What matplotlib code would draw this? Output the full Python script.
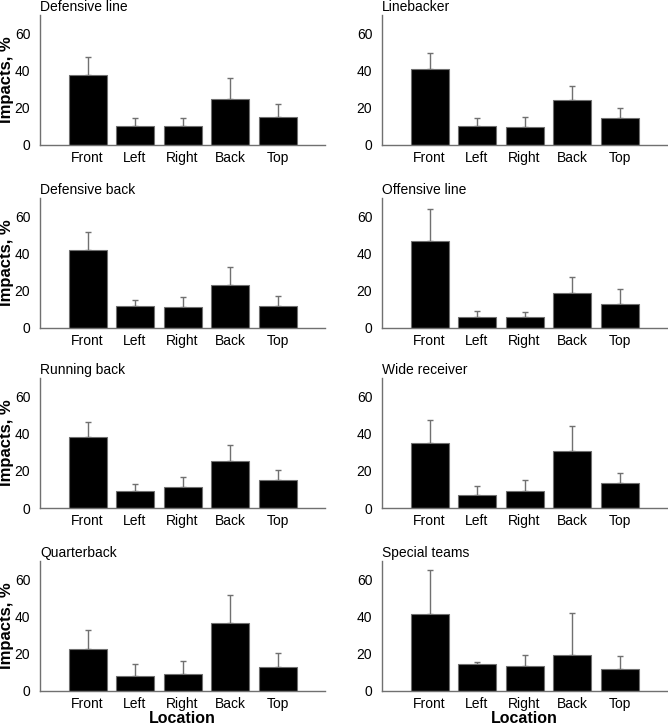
import matplotlib
matplotlib.use("Agg")
import matplotlib.pyplot as plt

plt.rcParams['font.family'] = ['Liberation Sans', 'DejaVu Sans']

# Данные: средние значения и верхняя граница ошибки
locations = ["Front", "Left", "Right", "Back", "Top"]
positions = ["Defensive line", "Linebacker", "Defensive back", "Offensive line",
             "Running back", "Wide receiver", "Quarterback", "Special teams"]

means_dl = [37.6, 10.4, 10.0, 24.7, 15.1]
tops_dl = [47.5, 14.7, 14.7, 36.0, 22.0]
means_lb = [40.9, 10.2, 9.7, 24.4, 14.3]
tops_lb = [49.5, 14.7, 15.1, 31.7, 19.9]
means_db = [41.8, 11.7, 11.5, 23.3, 11.7]
tops_db = [51.5, 15.3, 16.9, 32.9, 17.1]
means_ol = [47.0, 5.7, 5.9, 18.9, 12.7]
tops_ol = [64.3, 9.3, 8.8, 27.6, 20.8]
means_rb = [38.1, 9.3, 11.1, 25.3, 15.1]
tops_rb = [46.3, 12.7, 16.5, 34.1, 20.5]
means_wr = [35.2, 7.2, 9.3, 30.5, 13.3]
tops_wr = [47.2, 11.7, 14.9, 44.0, 18.7]
means_qb = [22.6, 7.9, 9.1, 36.4, 12.7]
tops_qb = [32.6, 14.5, 16.1, 51.8, 20.4]
means_st = [41.2, 14.3, 13.6, 19.4, 11.8]
tops_st = [65.1, 15.4, 19.4, 41.9, 18.8]

all_means = [means_dl, means_lb, means_db, means_ol,
             means_rb, means_wr, means_qb, means_st]
all_tops = [tops_dl, tops_lb, tops_db, tops_ol,
            tops_rb, tops_wr, tops_qb, tops_st]

W, H = 668, 725
fig = plt.figure(figsize=(W / 100, H / 100), dpi=100)

col_left = [40, 382]
row_top = [15, 198, 378, 561]
ax_w, ax_h = 285, 130

x = list(range(1, len(locations) + 1))
gray = "#707070"

for i, name in enumerate(positions):
    r, c = divmod(i, 2)
    ax = fig.add_axes([col_left[c] / W, 1 - (row_top[r] + ax_h) / H, ax_w / W, ax_h / H])
    m = all_means[i]
    err = [t - v for t, v in zip(all_tops[i], m)]
    ax.bar(x, m, width=0.8, color="black", edgecolor=gray, linewidth=0.8, zorder=2)
    ax.errorbar(x, m, yerr=[[0] * len(m), err], fmt="none", ecolor=gray,
                elinewidth=1.0, capsize=2, capthick=1.0, zorder=1)
    ax.set_xlim(0, 6)
    ax.set_ylim(0, 70)
    ax.set_yticks([0, 20, 40, 60])
    ax.set_xticks(x)
    ax.set_xticklabels(locations)
    ax.tick_params(length=0, labelsize=10)
    ax.tick_params(axis="y", pad=7)
    ax.tick_params(axis="x", pad=4)
    for s in ["top", "right"]:
        ax.spines[s].set_visible(False)
    for s in ["left", "bottom"]:
        ax.spines[s].set_color(gray)
        ax.spines[s].set_linewidth(1.0)
    ax.set_title(name, loc="left", fontsize=10, pad=3)
    if c == 0:
        ax.set_ylabel("Impacts, %", fontsize=12, fontweight="bold")
        ax.yaxis.set_label_coords(-0.09, 0.5)
    if r == 3:
        ax.set_xlabel("Location", fontsize=11.5, fontweight="bold", labelpad=0)

fig.savefig("out.png", dpi=100)
